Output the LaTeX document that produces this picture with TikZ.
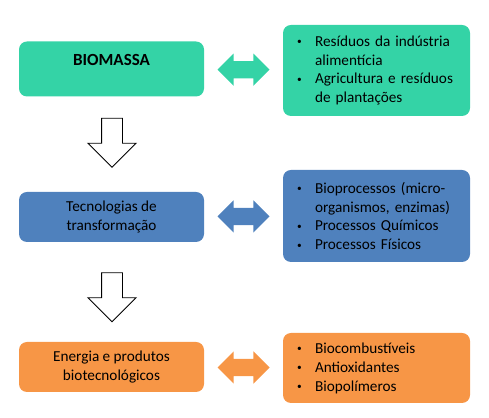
\documentclass[tikz,border=0pt]{standalone}
\usepackage{fontspec}
\setmainfont{Carlito}
\usepackage{tikz}
\usetikzlibrary{shapes.arrows,calc}
\definecolor{bioteal}{RGB}{52,211,166}
\definecolor{tecblue}{RGB}{79,129,189}
\definecolor{eneorange}{RGB}{247,150,70}
\newcommand{\bl}{\makebox[0.54cm][l]{\raisebox{0.15ex}{\footnotesize\textbullet}}}
\newcommand{\ind}{\hspace*{0.54cm}}

\begin{document}
\begin{tikzpicture}[
  every node/.style={font=\fontsize{13}{16.2}\selectfont},
  stage/.style={rounded corners=0.24cm,minimum width=5.55cm,minimum height=1.5cm,
    align=center,inner sep=0pt},
  items/.style={rounded corners=0.24cm,minimum width=5.61cm,text width=4.77cm,
    inner xsep=0.42cm,inner ysep=0pt,align=left},
  link/.style={double arrow,minimum height=1.56cm,minimum width=0.96cm,
    double arrow head extend=0.225cm,inner sep=0.255cm},
  down/.style={single arrow,draw=black,line width=0.8pt,fill=white,
    shape border rotate=270,minimum height=1.47cm,minimum width=1.41cm,
    single arrow head extend=0.405cm,inner sep=0.3cm},
]
\useasboundingbox (0,0) rectangle (14.67,12.54);
% ---- left column: the three stages ----
\node[stage,fill=bioteal,minimum height=1.65cm] (bio) at (3.345,10.47)
  {{\fontsize{14.5}{16.2}\selectfont\textbf{BIOMASSA}}\\~};
\node[stage,fill=tecblue] (tec) at (3.345,6.03) {Tecnologias de\\transformação};
\node[stage,fill=eneorange] (ene) at (3.345,1.53) {Energia e produtos\\biotecnológicos};
% ---- right column: what each stage covers ----
\node[items,fill=bioteal,minimum height=2.73cm] (res) at (11.295,10.425)
  {\bl Resíduos da indústria\\\ind alimentícia\\\bl Agricultura e resíduos\\\ind de plantações};
\node[items,fill=tecblue,minimum height=2.76cm] (proc) at (11.295,6.06)
  {\bl Bioprocessos (micro-\\\ind organismos, enzimas)\\\bl Processos Químicos\\\bl Processos Físicos};
\node[items,fill=eneorange,minimum height=2.1cm] (prod) at (11.295,1.5)
  {\bl Biocombustíveis\\\bl Antioxidantes\\\bl Biopolímeros};
% ---- double arrows between the columns ----
\node[link,fill=bioteal] (l1) at ($(bio.east)!0.5!(res.west)$) {};
\node[link,fill=tecblue] (l2) at ($(tec.east)!0.5!(proc.west)$) {};
\node[link,fill=eneorange] (l3) at ($(ene.east)!0.5!(prod.west)$) {};
% ---- hollow arrows down the left column ----
\node[down] (d1) at (3.36,8.415) {};
\node[down] (d2) at (3.36,3.78) {};
\end{tikzpicture}
\end{document}
